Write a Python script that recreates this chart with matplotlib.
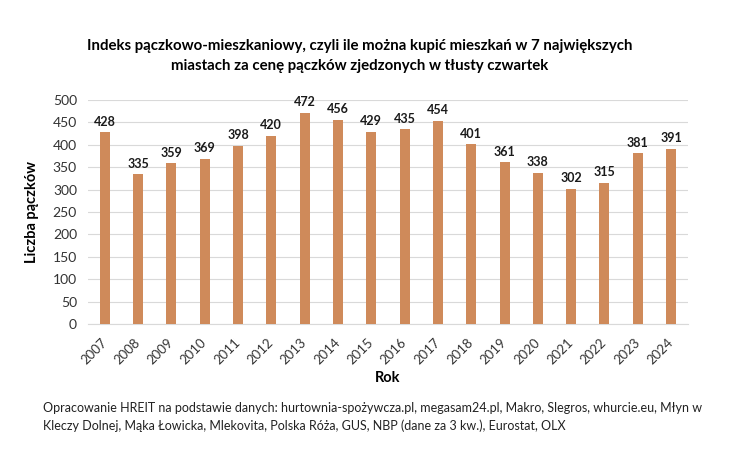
import matplotlib
matplotlib.use("Agg")
import matplotlib.pyplot as plt

plt.rcParams['font.family'] = ['Lato', 'DejaVu Sans']

years = [str(y) for y in range(2007, 2025)]
values = [428, 335, 359, 369, 398, 420, 472, 456, 429, 435, 454, 401, 361, 338, 302, 315, 381, 391]
yticks = [0, 50, 100, 150, 200, 250, 300, 350, 400, 450, 500]

fig = plt.figure(figsize=(7.34, 4.57), dpi=100)
ax = fig.add_axes([0.12, 0.291, 0.817, 0.49])
x = range(len(years))
ax.bar(x, values, width=0.3, color='#CF8A5A', zorder=3)
for xi, v in zip(x, values):
    ax.text(xi, v + 10, str(v), ha='center', va='bottom', fontsize=9, fontweight='bold', color='#1a1a1a')
ax.set_xlim(-0.5, len(years) - 0.5)
ax.set_ylim(0, 500)
ax.set_yticks(yticks)
ax.set_yticklabels([str(t) for t in yticks], fontsize=10, color='#333333')
ax.set_xticks(list(x))
ax.set_xticklabels(years, rotation=45, fontsize=9.5, color='#333333', ha='right', va='center',
                   rotation_mode='anchor')
ax.grid(axis='y', color='#d9d9d9', linewidth=0.8, zorder=0)
for s in ['top', 'right', 'left']:
    ax.spines[s].set_visible(False)
ax.spines['bottom'].set_color('#d9d9d9')
ax.tick_params(axis='both', length=0)
ax.tick_params(axis='y', pad=8)
ax.tick_params(axis='x', pad=12)
ax.set_ylabel('Liczba pączków', fontsize=10.5, fontweight='bold', labelpad=10)
ax.set_xlabel('Rok', fontsize=10.5, fontweight='bold', labelpad=3)

fig.text(0.49, 0.878, 'Indeks pączkowo-mieszkaniowy, czyli ile można kupić mieszkań w 7 największych\nmiastach za cenę pączków zjedzonych w tłusty czwartek',
         ha='center', va='center', fontsize=10.8, fontweight='bold', linespacing=1.5)
fig.text(0.058, 0.088, 'Opracowanie HREIT na podstawie danych: hurtownia-spożywcza.pl, megasam24.pl, Makro, Slegros, whurcie.eu, Młyn w\nKleczy Dolnej, Mąka Łowicka, Mlekovita, Polska Róża, GUS, NBP (dane za 3 kw.), Eurostat, OLX',
         ha='left', va='center', fontsize=9, linespacing=1.5, color='#222222')

fig.savefig('out.png', dpi=100)
